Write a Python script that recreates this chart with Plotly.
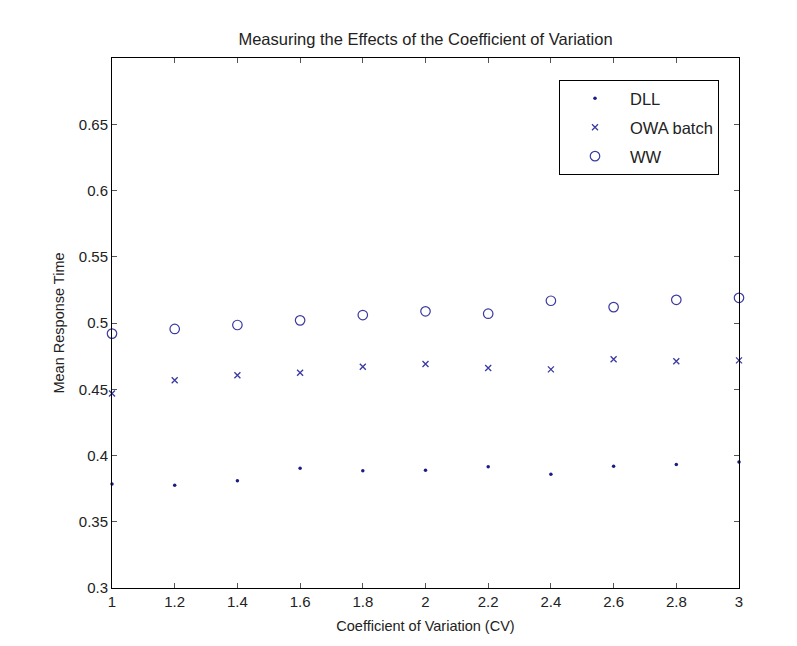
import plotly.graph_objects as go

cv = [1.0, 1.2, 1.4, 1.6, 1.8, 2.0, 2.2, 2.4, 2.6, 2.8, 3.0]
dll = [0.3785, 0.3775, 0.381, 0.3903, 0.3885, 0.3888, 0.3915, 0.3858, 0.3918, 0.3933, 0.395]
owa = [0.4468, 0.4568, 0.4606, 0.4625, 0.467, 0.469, 0.466, 0.465, 0.4726, 0.4711, 0.4718]
ww = [0.492, 0.4955, 0.4985, 0.502, 0.506, 0.5088, 0.507, 0.5168, 0.512, 0.5175, 0.519]

x_ticks = [1, 1.2, 1.4, 1.6, 1.8, 2, 2.2, 2.4, 2.6, 2.8, 3]
x_labels = ["1", "1.2", "1.4", "1.6", "1.8", "2", "2.2", "2.4", "2.6", "2.8", "3"]
y_ticks = [0.3, 0.35, 0.4, 0.45, 0.5, 0.55, 0.6, 0.65]
y_labels = ["0.3", "0.35", "0.4", "0.45", "0.5", "0.55", "0.6", "0.65"]

col = "#3a3aa0"
font = "Liberation Sans, Arial, sans-serif"
txt = "#222"

fig = go.Figure()
fig.add_trace(go.Scatter(x=cv, y=dll, mode="markers", name="DLL", legendgroup="a",
                         marker=dict(symbol="circle", size=3.5, color="#1c1c86"), cliponaxis=False))
fig.add_trace(go.Scatter(x=cv, y=owa, mode="markers", name="OWA batch", legendgroup="b",
                         marker=dict(symbol="x-thin-open", size=6, color=col, line=dict(width=1.3, color=col)),
                         cliponaxis=False))
fig.add_trace(go.Scatter(x=cv, y=ww, mode="markers", name="WW", legendgroup="c",
                         marker=dict(symbol="circle-open", size=9.5, color=col, line=dict(width=1.2, color=col)),
                         cliponaxis=False))

axis_common = dict(showline=True, linecolor="black", linewidth=1, mirror="ticks",
                   ticks="inside", ticklen=5, tickcolor="#555", showgrid=False, zeroline=False,
                   tickfont=dict(family=font, size=15, color=txt))

fig.update_layout(
    width=797, height=646,
    margin=dict(l=104, r=66, t=50, b=66),
    paper_bgcolor="white", plot_bgcolor="white",
    title=dict(text="Measuring the Effects of the Coefficient of Variation", x=0.5, xref="paper",
               y=1 - 31 / 646, yanchor="middle", font=dict(family=font, size=16.5, color=txt)),
    xaxis=dict(range=[1, 3], tickvals=x_ticks, ticktext=x_labels,
               title=dict(text="Coefficient of Variation (CV)", standoff=11,
                          font=dict(family=font, size=14.5, color=txt)), **axis_common),
    yaxis=dict(range=[0.3, 0.7], tickvals=y_ticks, ticktext=y_labels,
               title=dict(text="Mean Response Time", standoff=10,
                          font=dict(family=font, size=14.5, color=txt)), **axis_common),
    legend=dict(x=(559 - 112) / 627, y=1 - (80 - 58) / 530, xanchor="left", yanchor="top",
                bgcolor="white", bordercolor="black", borderwidth=1,
                font=dict(family=font, size=16.5, color=txt), tracegroupgap=4.5,
                itemwidth=60),
    showlegend=True,
)

fig.write_html("out.html")
